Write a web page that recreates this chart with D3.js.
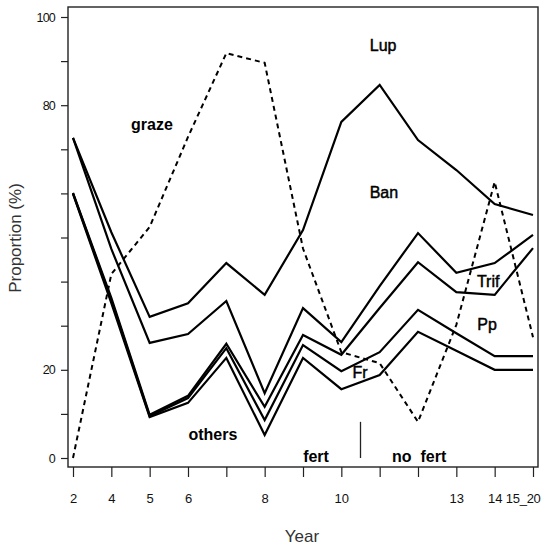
<!DOCTYPE html>
<html>
<head>
<meta charset="utf-8">
<script src="https://cdn.jsdelivr.net/npm/d3@7"></script>
<style>
  html, body { margin: 0; padding: 0; background: #fff; }
  svg { display: block; }
  text { font-family: "Liberation Sans", Arial, Helvetica, sans-serif; }
</style>
</head>
<body>
<svg id="chart" width="541" height="546"></svg>
<script>
// ---- data ----
const categories = ["2","4","5","6","7","8","9","10","11","12","13","14","15_20"];
const xTickLabels = ["2","4","5","6","","8","","10","","","13","14","15_20"];
const yTickValues = [0,10,20,30,40,50,60,70,80,90,100];
const yTickLabels = ["0","","20","","","","","","80","","100"];

// cumulative boundaries (%), top to bottom
const lupBan    = [72.6, 51.2, 32.0, 35.1, 44.2, 37.0, 51.7, 76.2, 84.6, 72.1, 65.3, 57.6, 55.1];
const banTrif   = [72.6, 47.4, 26.1, 28.1, 35.6, 14.7, 34.0, 26.3, 39.0, 51.0, 42.0, 44.2, 50.6];
const trifPp    = [60.1, 36.3,  9.8, 14.1, 25.9, 11.6, 27.9, 23.4, 34.0, 44.4, 37.6, 37.0, 47.6];
const ppFr      = [60.0, 35.8,  9.5, 13.6, 24.9,  8.6, 25.6, 19.7, 24.0, 33.6, 28.3, 23.1, 23.1];
const frOthers  = [59.9, 35.1,  9.3, 12.5, 22.7,  5.2, 22.7, 15.6, 18.8, 28.6, 24.3, 20.0, 20.0];
const graze     = [ 0.0, 41.7, 52.4, 72.8, 91.8, 89.6, 47.5, 24.0, 21.5,  8.2, 30.2, 62.6, 27.4];

const solidSeries = [lupBan, banTrif, trifPp, ppFr, frOthers];

// ---- drawing ----
const svg = d3.select("#chart");
const frame = {left: 68, top: 7, right: 538, bottom: 467};

const x = d3.scalePoint().domain(categories).range([73, 533]);
const y = d3.scaleLinear().domain([0, 100]).range([458, 17]);
const xAt = i => x(categories[0]) + i * x.step();

const line = d3.line()
  .x((d, i) => x(categories[i]))
  .y(d => y(d));

// frame
svg.append("rect")
  .attr("x", frame.left).attr("y", frame.top)
  .attr("width", frame.right - frame.left)
  .attr("height", frame.bottom - frame.top)
  .attr("fill", "none").attr("stroke", "#222").attr("stroke-width", 1.4);

// y axis
const yAxis = svg.append("g")
  .attr("transform", `translate(${frame.left},0)`)
  .call(d3.axisLeft(y).tickValues(yTickValues)
    .tickFormat((d, i) => yTickLabels[i]).tickSize(7).tickPadding(6));
yAxis.select(".domain").remove();
yAxis.selectAll("line").attr("stroke", "#222").attr("stroke-width", 1.2);
yAxis.selectAll("text").attr("font-size", 12.5).attr("fill", "#111")
  .attr("letter-spacing", "-0.8px")
  .attr("font-family", "'Liberation Sans', Arial, sans-serif");

// x axis
const xAxis = svg.append("g")
  .attr("transform", `translate(0,${frame.bottom})`)
  .call(d3.axisBottom(x).tickFormat((d, i) => xTickLabels[i]).tickSize(10).tickPadding(17));
xAxis.select(".domain").remove();
xAxis.selectAll("line").attr("stroke", "#222").attr("stroke-width", 1.2);
xAxis.selectAll("text").attr("font-size", 13).attr("fill", "#111")
  .attr("font-family", "'Liberation Sans', Arial, sans-serif");
xAxis.selectAll(".tick").filter(d => d === categories[categories.length - 1])
  .select("text").attr("text-anchor", "end").attr("x", 7)
  .attr("letter-spacing", "-0.3px");

// solid boundary lines
svg.append("g").selectAll("path").data(solidSeries).join("path")
  .attr("d", line)
  .attr("fill", "none").attr("stroke", "#000")
  .attr("stroke-width", 2.2);

// graze dashed line
svg.append("path").datum(graze)
  .attr("d", line)
  .attr("fill", "none").attr("stroke", "#000")
  .attr("stroke-width", 2)
  .attr("stroke-dasharray", "5,4");

// fert / no fert divider
const divX = (x("10") + x("11")) / 2;
svg.append("line")
  .attr("x1", divX).attr("x2", divX)
  .attr("y1", y(8.2)).attr("y2", y(0))
  .attr("stroke", "#222").attr("stroke-width", 1.3);

// region labels
const labels = [
  {t: "Lup",    i: 8.09,  v: 92.3, w: "normal"},
  {t: "Ban",    i: 8.11,  v: 59.0, w: "normal"},
  {t: "graze",  i: 2.06,  v: 74.4, w: "bold"},
  {t: "Trif",   i: 10.83, v: 38.8, w: "normal"},
  {t: "Pp",     i: 10.8,  v: 29.0, w: "normal"},
  {t: "Fr",     i: 7.49,  v: 18.1, w: "normal"},
  {t: "others", i: 3.65,  v: 4.1,  w: "bold"},
  {t: "fert",   i: 6.34,  v: -0.9, w: "bold"},
  {t: "no  fert", i: 9.03, v: -0.9, w: "bold"}
];
svg.append("g").selectAll("text").data(labels).join("text")
  .attr("x", d => xAt(d.i)).attr("y", d => y(d.v))
  .attr("text-anchor", "middle")
  .attr("font-size", 16)
  .attr("font-weight", d => d.w)
  .attr("fill", "#000")
  .attr("stroke", d => d.w === "normal" ? "#000" : "none")
  .attr("stroke-width", 0.45)
  .style("white-space", "pre")
  .text(d => d.t);

// axis titles
svg.append("text")
  .attr("transform", "translate(21,238) rotate(-90)")
  .attr("text-anchor", "middle")
  .attr("font-size", 17).attr("fill", "#333")
  .text("Proportion (%)");
svg.append("text")
  .attr("x", 302).attr("y", 542)
  .attr("text-anchor", "middle")
  .attr("font-size", 17).attr("fill", "#333")
  .text("Year");
</script>
</body>
</html>
